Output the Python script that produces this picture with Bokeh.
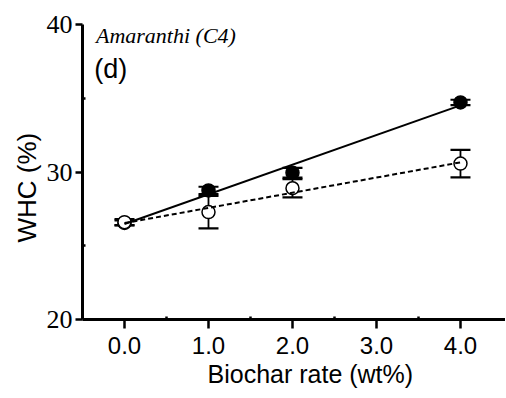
import numpy as np
from bokeh.plotting import figure
from bokeh.models import FixedTicker, Label, Whisker, TeeHead, ColumnDataSource, Title
from bokeh.embed import file_html
from bokeh.resources import INLINE

# ---- data ----
rates = [0, 1, 2, 4]
whc_filled = [26.55, 28.75, 29.95, 34.72]
err_filled = [0.17, 0.25, 0.33, 0.18]
whc_open = [26.6, 27.28, 28.9, 30.57]
err_open = [0.2, 1.1, 0.62, 0.93]
x_ticks = [0, 1, 2, 3, 4]
x_tick_labels = ["0.0", "1.0", "2.0", "3.0", "4.0"]
y_ticks = [20, 30, 40]
y_tick_labels = ["20", "30", "40"]
title_text = "Amaranthi (C4)"
panel_text = "(d)"
x_title = "Biochar rate (wt%)"
y_title = "WHC (%)"

p = figure(width=505, height=397, x_range=(-0.5, 4.536), y_range=(20, 40),
           output_backend="svg", toolbar_location=None,
           min_border_left=82, min_border_right=0, min_border_top=24, min_border_bottom=78)
p.outline_line_color = None
p.xgrid.visible = False
p.ygrid.visible = False
p.background_fill_color = "white"
p.border_fill_color = "white"

# axes
for ax in (p.xaxis[0], p.yaxis[0]):
    ax.axis_line_width = 3
    ax.axis_line_color = "black"
    ax.major_tick_line_width = 2.5
    ax.major_tick_line_color = "black"
    ax.minor_tick_line_width = 2.5
    ax.minor_tick_line_color = "black"
    ax.major_tick_in = 0
    ax.minor_tick_out = 0
    ax.minor_tick_in = 3
    ax.major_label_text_color = "black"

p.xaxis.ticker = FixedTicker(ticks=x_ticks, minor_ticks=[0.5, 1.5, 2.5, 3.5])
p.xaxis.major_label_overrides = {t: l for t, l in zip(x_ticks, x_tick_labels)}
p.xaxis.major_tick_out = 9
p.xaxis.major_label_text_font = "Liberation Sans"
p.xaxis.major_label_text_font_size = "24px"
p.xaxis.major_label_standoff = 8

p.yaxis.ticker = FixedTicker(ticks=y_ticks, minor_ticks=[25, 35])
p.yaxis.major_label_overrides = {t: l for t, l in zip(y_ticks, y_tick_labels)}
p.yaxis.major_tick_out = 7
p.yaxis.major_label_text_font = "Liberation Serif"
p.yaxis.major_label_text_font_size = "26px"
p.yaxis.major_label_standoff = 3

# axis titles
p.add_layout(Title(text=x_title, align="left", offset=125, standoff=2,
                   text_font="Liberation Sans", text_font_size="25px",
                   text_font_style="normal", text_color="black"), "below")
p.add_layout(Title(text=y_title, align="left", offset=77, standoff=4,
                   text_font="Liberation Sans", text_font_size="26px",
                   text_font_style="normal", text_color="black"), "left")

# error bars
src_f = ColumnDataSource(dict(x=rates, y=whc_filled,
                              lo=[a - b for a, b in zip(whc_filled, err_filled)],
                              hi=[a + b for a, b in zip(whc_filled, err_filled)]))
src_o = ColumnDataSource(dict(x=rates, y=whc_open,
                              lo=[a - b for a, b in zip(whc_open, err_open)],
                              hi=[a + b for a, b in zip(whc_open, err_open)]))
for src in (src_o, src_f):
    w = Whisker(source=src, base="x", upper="hi", lower="lo", line_width=1.8, line_color="black",
                upper_head=TeeHead(size=20, line_width=2.2, line_color="black"),
                lower_head=TeeHead(size=20, line_width=2.2, line_color="black"))
    p.add_layout(w)

# markers
p.scatter("x", "y", source=src_f, size=13, fill_color="black", line_color="black", line_width=1.5)
p.scatter("x", "y", source=src_o, size=13, fill_color="white", line_color="black", line_width=1.5)

# regression lines
xs = np.array([rates[0], rates[-1]], dtype=float)
kf = np.polyfit(rates, whc_filled, 1)
ko = np.polyfit(rates, whc_open, 1)
p.line(xs, np.polyval(kf, xs), line_color="black", line_width=2)
p.line(xs, np.polyval(ko, xs), line_color="black", line_width=2, line_dash="5 3")

# texts
p.add_layout(Label(x=-0.34, y=39.25, text=title_text, text_font="Liberation Serif",
                   text_font_style="italic", text_font_size="22px", text_baseline="alphabetic",
                   text_align="left", text_color="black"))
p.add_layout(Label(x=-0.36, y=37.0, text=panel_text, text_font="Liberation Sans",
                   text_font_size="27px", text_baseline="middle", text_align="left", text_color="black"))

open("out.html", "w").write(file_html(p, INLINE))
